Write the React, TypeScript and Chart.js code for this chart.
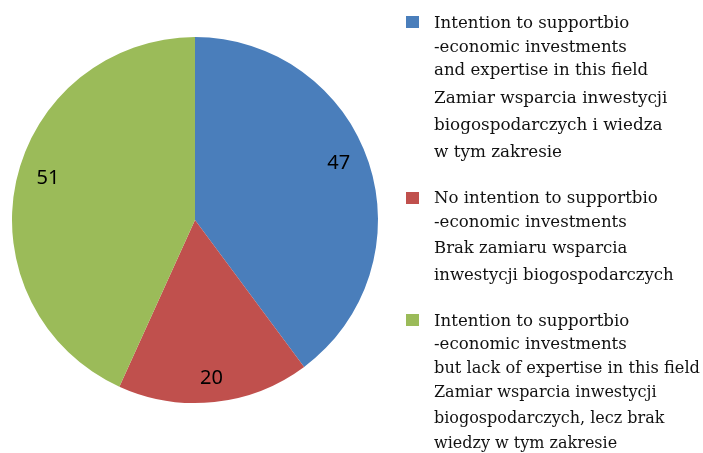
import React, { useEffect, useRef } from "react";
import { Chart, registerables } from "chart.js";

Chart.register(...registerables);

const values = [47, 20, 51];
const colors = ["#4A7EBB", "#C0504D", "#9BBB59"];
const legendEnglish = [
  ["Intention to supportbio", "-economic investments", "and expertise in this field"],
  ["No intention to supportbio", "-economic investments"],
  ["Intention to supportbio", "-economic investments", "but lack of expertise in this field"],
];
const legendPolish = [
  ["Zamiar wsparcia inwestycji", "biogospodarczych i wiedza", "w tym zakresie"],
  ["Brak zamiaru wsparcia", "inwestycji biogospodarczych"],
  ["Zamiar wsparcia inwestycji", "biogospodarczych, lecz brak", "wiedzy w tym zakresie"],
];

// layout (positions only)
const LEGEND_BASELINES = [
  [28, 52, 75, 103, 130, 157],
  [203, 227, 253, 280],
  [326, 349, 373, 397, 423, 448],
];
const LEGEND_SQUARE_TOP = [16, 192, 314];
const EN_FONT = 16.6;
const PL_FONT = [16.8, 16.5, 16.0];
const LABEL_NUDGE = [
  [-4, -8],
  [0, 4],
  [5, -9],
];

const legendPlugin = {
  id: "customLegend",
  afterDraw(chart: any) {
    const ctx = chart.ctx;
    ctx.save();
    for (let i = 0; i < values.length; i++) {
      ctx.fillStyle = colors[i];
      ctx.fillRect(406, LEGEND_SQUARE_TOP[i], 13, 12);
      ctx.fillStyle = "#111";
      ctx.textAlign = "left";
      ctx.textBaseline = "alphabetic";
      const lines = [...legendEnglish[i], ...legendPolish[i]];
      lines.forEach((line, j) => {
        const isEn = j < legendEnglish[i].length;
        ctx.font = `${isEn ? EN_FONT : PL_FONT[i]}px "DejaVu Serif"`;
        ctx.fillText(line, 434, LEGEND_BASELINES[i][j], 266);
      });
    }
    ctx.restore();
  },
};

const valueLabelPlugin = {
  id: "valueLabels",
  afterDatasetsDraw(chart: any) {
    const ctx = chart.ctx;
    const meta = chart.getDatasetMeta(0);
    ctx.save();
    ctx.fillStyle = "#000";
    ctx.font = '20px "Noto Sans"';
    ctx.textAlign = "center";
    ctx.textBaseline = "middle";
    meta.data.forEach((arc: any, i: number) => {
      const p = arc.getProps(["x", "y", "startAngle", "endAngle", "outerRadius"], true);
      const mid = (p.startAngle + p.endAngle) / 2;
      const r = p.outerRadius * 0.85;
      ctx.fillText(
        String(values[i]),
        p.x + Math.cos(mid) * r + LABEL_NUDGE[i][0],
        p.y + Math.sin(mid) * r + LABEL_NUDGE[i][1]
      );
    });
    ctx.restore();
  },
};

export default function App() {
  const ref = useRef<HTMLCanvasElement>(null);
  useEffect(() => {
    if (!ref.current) return;
    const chart = new Chart(ref.current, {
      type: "pie",
      data: {
        labels: legendEnglish.map((l) => l.join(" ")),
        datasets: [
          {
            data: values,
            backgroundColor: colors,
            borderWidth: 0,
          },
        ],
      },
      options: {
        responsive: false,
        animation: false,
        layout: { padding: { left: 12, top: 37, right: 325, bottom: 50 } },
        plugins: {
          legend: { display: false },
          tooltip: { enabled: false },
        },
      },
      plugins: [valueLabelPlugin, legendPlugin],
    });
    return () => chart.destroy();
  }, []);
  return (
    <div style={{ position: "absolute", left: 0, top: 0, width: 703, height: 453, background: "#fff" }}>
      <canvas ref={ref} width={703} height={453} style={{ display: "block" }} />
    </div>
  );
}
